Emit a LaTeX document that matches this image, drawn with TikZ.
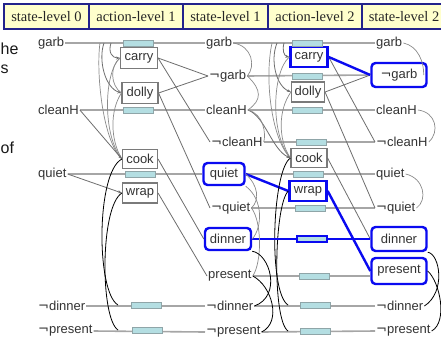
\documentclass[tikz,border=0pt]{standalone}
\usepackage{fontspec}
\setmainfont{Liberation Sans}
\newfontfamily\hdrfont{Liberation Serif}
\newfontfamily\dvfont{DejaVu Sans}
\usetikzlibrary{arrows.meta}
\newcommand{\nt}{{\dvfont ¬}}
\definecolor{txt}{HTML}{333333}
\definecolor{pl}{HTML}{A6A6A6}
\definecolor{nfill}{HTML}{B4DEE2}
\definecolor{ndraw}{HTML}{8FA5A8}
\definecolor{abox}{HTML}{7A7A7A}
\definecolor{hl}{HTML}{0A0AF0}
\definecolor{hfill}{HTML}{FFFFCC}
\definecolor{hdraw}{HTML}{23238C}
\definecolor{mx}{HTML}{6E6E6E}
\tikzset{
  lbl/.style={text=txt, font=\fontsize{13}{15}\selectfont, inner sep=1pt, anchor=west},
  act/.style={draw=abox, line width=1.1pt, fill=white, text=txt, font=\fontsize{13}{15}\selectfont, minimum width=36pt, minimum height=20pt, inner sep=1pt},
  hlact/.style={act, draw=hl, line width=2.4pt},
  noopbox/.style={draw=ndraw, fill=nfill, line width=0.6pt, minimum width=30pt, minimum height=6pt, inner sep=0pt},
  hlbox/.style={draw=hl, line width=2.4pt, rounded corners=4pt, fill=white, text=txt, font=\fontsize{13}{15}\selectfont, inner sep=1pt},
  pline/.style={draw=pl, line width=1.6pt},
  eff/.style={draw=mx, line width=0.8pt},
  mutex/.style={draw=mx!80, line width=0.7pt},
  blk/.style={draw=black, line width=0.8pt},
  hline/.style={draw=hl, line width=2.4pt},
  pre/.style={eff, -{Stealth[length=4pt,width=3pt]}},
  hdrcell/.style={draw=hdraw, line width=1.2pt, fill=hfill, minimum height=25pt, inner sep=0pt, text=black!85, font=\hdrfont\fontsize{14.5}{16}\selectfont},
  frag/.style={anchor=west, inner sep=0pt, text=black!90, font=\fontsize{16}{18}\selectfont}
}
\begin{document}
\begin{tikzpicture}[x=1pt,y=-1pt]
\useasboundingbox (0,0) rectangle (441,341);
\fill[white] (0,0) rectangle (441,341);

% header
\node[hdrcell, minimum width=85pt] (h1) at (46.5,16.5) {state-level 0};
\node[hdrcell, minimum width=94pt] (h2) at (136,16.5) {action-level 1};
\node[hdrcell, minimum width=85pt] (h3) at (225.5,16.5) {state-level 1};
\node[hdrcell, minimum width=94pt] (h4) at (315,16.5) {action-level 2};
\node[hdrcell, minimum width=84pt] (h5) at (404,16.5) {state-level 2};

% slide text at the left edge
\node[frag] (f1) at (0.5,49) {he};
\node[frag] (f2) at (0.5,69) {s};
\node[frag] (f3) at (0.5,148) {of};

% state level 0
\node[lbl] (s0g) at (37,43) {garb};
\node[lbl] (s0c) at (37,110) {cleanH};
\node[lbl] (s0q) at (37,174) {quiet};
\node[lbl] (s0nd) at (37,306) {\nt dinner};
\node[lbl] (s0np) at (37,331) {\nt present};

% state level 1
\node[lbl] (s1g) at (205,43) {garb};
\node[lbl] (s1ng) at (208,76) {\nt garb};
\node[lbl] (s1c) at (205,110) {cleanH};
\node[lbl] (s1nc) at (210,142) {\nt cleanH};
\node[hlbox, minimum width=41pt, minimum height=22pt] (s1q) at (224,174) {quiet};
\node[lbl] (s1nq) at (210,208) {\nt quiet};
\node[hlbox, minimum width=46pt, minimum height=22pt] (s1d) at (228,239) {dinner};
\node[lbl] (s1p) at (207,276) {present};
\node[lbl] (s1nd) at (205,306) {\nt dinner};
\node[lbl] (s1np) at (205,332) {\nt present};

% state level 2
\node[lbl] (s2g) at (375,43) {garb};
\node[hlbox, minimum width=55pt, minimum height=24pt] (s2ng) at (399,75) {\nt garb};
\node[lbl] (s2c) at (375,110) {cleanH};
\node[lbl] (s2nc) at (375,142) {\nt cleanH};
\node[lbl] (s2q) at (375,174) {quiet};
\node[lbl] (s2nq) at (375,208) {\nt quiet};
\node[hlbox, minimum width=55pt, minimum height=24pt] (s2d) at (399,239) {dinner};
\node[hlbox, minimum width=55pt, minimum height=26pt] (s2p) at (399,271) {present};
\node[lbl] (s2nd) at (375,306) {\nt dinner};
\node[lbl] (s2np) at (375,331) {\nt present};

% persistence lines level 0 -> 1
\draw[pline] (s0g.east) -- (s1g.west);
\draw[pline] (s0c.east) -- (s1c.west);
\draw[pline] (s0q.east) -- (s1q.west);
\draw[pline] (s0nd.east) -- (s1nd.west);
\draw[pline] (s0np.east) -- (s1np.west);

% persistence lines level 1 -> 2
\draw[pline] (s1g.east) -- (s2g.west);
\draw[pline] (s1ng.east) -- (s2ng.west);
\draw[pline] (s1c.east) -- (s2c.west);
\draw[pline] (s1nc.east) -- (s2nc.west);
\draw[pline] (s1q.east) -- (s2q.west);
\draw[pline] (s1nq.east) -- (s2nq.west);
\draw[pline] (s1p.east) -- (s1p.east -| s2p.west);
\draw[pline] (s1nd.east) -- (s2nd.west);
\draw[pline] (s1np.east) -- (s2np.west);

% actions
\node[act, minimum width=37pt, minimum height=21pt] (a1carry) at (139,58) {carry};
\node[act, minimum height=21pt] (a1dolly) at (140,93) {dolly};
\node[act, minimum width=35pt, minimum height=19pt] (a1cook) at (140,159) {cook};
\node[act, minimum width=35pt] (a1wrap) at (140,193) {wrap};
\node[hlact, minimum width=37pt] (a2carry) at (309,57) {carry};
\node[act, minimum width=33pt] (a2dolly) at (308,92) {dolly};
\node[act, minimum height=19pt] (a2cook) at (309,158) {cook};
\node[hlact, minimum width=37pt] (a2wrap) at (308,191) {wrap};

% level-1 preconditions and mutexes
\coordinate (g0a) at (111,43);
\coordinate (g0b) at (104,43);
\coordinate (g0c) at (100,43);
\coordinate (nd1) at (118,305);
\coordinate (np1) at (118,330);
\draw[pre] (g0a) .. controls (108,52) and (112,58) .. (a1carry.west);
\draw[pre] (g0b) .. controls (98,60) and (105,88) .. (a1dolly.west);
\draw[mutex] (g0c) .. controls (96,70) and (102,140) .. (a1cook.west);
\draw[mutex] (a1carry.west) .. controls (104,72) and (102,135) .. (a1cook.west);
\draw[mutex] (a1dolly.west) .. controls (110,110) and (110,140) .. (a1cook.west);
\draw[mutex] (a1carry.west) .. controls (110,66) and (110,85) .. (a1dolly.west);
\draw[pre] (s0c.east) -- (a1cook.west);
\draw[pre] (s0q.east) -- (a1wrap.west);
\draw[blk] (a1cook.west) .. controls (96,172) and (96,292) .. (nd1);
\draw[blk] (a1wrap.west) .. controls (100,206) and (100,318) .. (np1);

% level-1 effects
\draw[eff] (a1carry.east) -- (s1ng.west);
\draw[eff] (a1dolly.east) -- (s1ng.west);
\draw[eff] (a1carry.east) -- (s1nc.west);
\draw[eff] (a1dolly.east) -- (s1nq.west);
\draw[eff] (a1cook.east) -- (s1d.west);
\draw[eff] (a1wrap.east) -- (s1p.west);

% level-2 preconditions and mutexes
\coordinate (g1a) at (284,43);
\coordinate (g1b) at (277,43);
\coordinate (g1c) at (272,43);
\coordinate (nd2) at (288,305);
\coordinate (np2) at (288,331);
\draw[pre] (g1a) .. controls (282,50) and (284,56) .. (a2carry.west);
\draw[pre] (g1b) .. controls (270,60) and (276,86) .. (a2dolly.west);
\draw[mutex] (g1c) .. controls (264,80) and (272,140) .. (a2cook.west);
\draw[mutex] (a2carry.west) .. controls (272,72) and (270,135) .. (a2cook.west);
\draw[mutex] (a2dolly.west) .. controls (278,110) and (278,140) .. (a2cook.west);
\draw[pre] (s1c.east) .. controls (265,116) and (272,150) .. (a2cook.west);
\draw[mutex] (s1ng.east) .. controls (262,90) and (262,100) .. (s1c.east);
\draw[hline] (s1q.east) -- (a2wrap.west);
\draw[blk] (a2cook.west) .. controls (272,170) and (268,292) .. (nd2);
\draw[blk] (a2wrap.west) .. controls (274,205) and (272,320) .. (np2);

% level-2 effects
\draw[eff] (a2dolly.east) -- (s2ng.west);
\draw[eff] (a2carry.east) -- (s2nc.west);
\draw[eff] (a2dolly.east) -- (s2nq.west);
\draw[eff] (a2cook.east) -- (s2d.west);
\draw[hline] (a2carry.east) -- (s2ng.west);
\draw[hline] (a2wrap.east) -- (s2p.west);
\draw[hline] (s1d.east) -- (s2d.west);

% state-level mutexes
\draw[mutex] (s1g.east) .. controls (252,46) and (256,66) .. (s1ng.east);
\draw[mutex] (s1c.east) .. controls (264,114) and (266,134) .. (s1nc.east);
\draw[mutex] (s1q.east) .. controls (258,185) and (260,200) .. (s1nq.east);
\draw[mutex] (s1nq.east) .. controls (262,222) and (262,262) .. (s1p.east);
\draw[mutex] (s1q.south east) .. controls (264,200) and (262,228) .. (s1d.east);
\draw[blk] (s1d.south east) .. controls (270,254) and (282,296) .. (s1nd.east);
\draw[blk] (s1p.east) .. controls (272,286) and (282,322) .. (s1np.east);
\draw[mutex] (s2g.east) .. controls (418,46) and (424,62) .. ([xshift=-4pt]s2ng.east);
\draw[mutex] (s2c.east) .. controls (436,112) and (440,132) .. (s2nc.east);
\draw[mutex] (s2q.east) .. controls (424,178) and (428,200) .. (s2nq.east);
\draw[blk] (s2d.south east) .. controls (440,254) and (446,292) .. (s2nd.east);
\draw[blk] (s2p.east) .. controls (440,282) and (448,322) .. (s2np.east);

% no-op boxes
\node[noopbox] (n1g) at (138,43) {};
\node[noopbox] (n1c) at (138,110) {};
\node[noopbox] (n1q) at (140,174) {};
\node[noopbox] (n1nd) at (146,305) {};
\node[noopbox] (n1np) at (147,330) {};
\node[noopbox] (n2g) at (307,43) {};
\node[noopbox] (n2ng) at (307,76) {};
\node[noopbox] (n2c) at (307,110) {};
\node[noopbox] (n2nc) at (311,142) {};
\node[noopbox] (n2q) at (308,174) {};
\node[noopbox] (n2nq) at (310,208) {};
\node[noopbox, draw=hl, line width=1.8pt] (n2d) at (312,239) {};
\node[noopbox] (n2p) at (314,276) {};
\node[noopbox] (n2nd) at (315,305) {};
\node[noopbox] (n2np) at (315,331) {};
\end{tikzpicture}
\end{document}
